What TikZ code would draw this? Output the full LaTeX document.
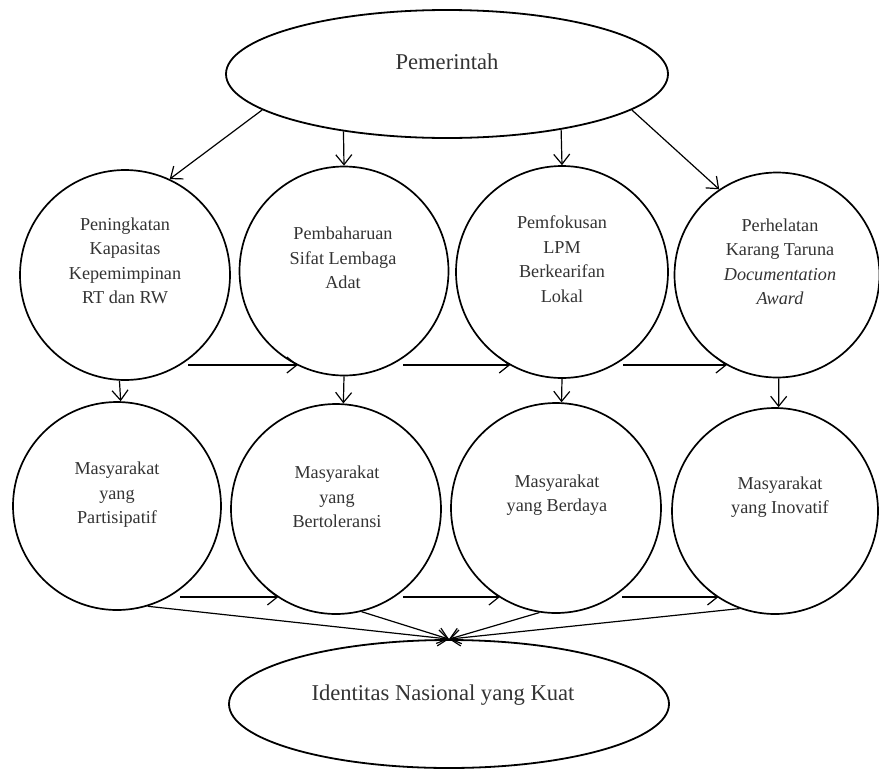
\documentclass[tikz,border=0pt]{standalone}
\usepackage{fontspec}
\setmainfont{Liberation Serif}
\usetikzlibrary{arrows.meta,shapes.geometric}
\begin{document}
\begin{tikzpicture}[x=1pt,y=-1pt,
  circ/.style={circle,draw=black,line width=1.7pt,inner sep=0pt},
  ell/.style={ellipse,draw=black,line width=1.8pt,inner sep=0pt},
  ctext/.style={align=center,font=\fontsize{18.2}{24.5}\selectfont,text=black!80},
  etext/.style={font=\fontsize{22.6}{27}\selectfont,text=black!80},
  arr/.style={line width=1.2pt,-{Straight Barb[length=10pt,width=16pt,line width=1.2pt]}}]
\useasboundingbox (0,0) rectangle (879,769);

% ellipses
\node[ell,minimum width=442pt,minimum height=128pt] (top) at (447,74) {};
\node[etext] (toptxt) at (447,62) {Pemerintah};
\node[ell,minimum width=440pt,minimum height=128pt] (bot) at (449,704) {};
\node[etext] (bottxt) at (443,695) {Identitas Nasional yang Kuat};

% row 1 circles
\node[circ,minimum size=210pt] (c1) at (125,275) {};
\node[circ,minimum size=209pt] (c2) at (344,271) {};
\node[circ,minimum size=212pt] (c3) at (562,272) {};
\node[circ,minimum size=205pt] (c4) at (777,275) {};
\node[ctext] (t1) at (125,261) {Peningkatan\\Kapasitas\\Kepemimpinan\\RT dan RW};
\node[ctext] (t2) at (343,258) {Pembaharuan\\Sifat Lembaga\\Adat};
\node[ctext] (t3) at (562,259) {Pemfokusan\\LPM\\Berkearifan\\Lokal};
\node[ctext] (t4) at (780,262) {Perhelatan\\Karang Taruna\\\textit{Documentation}\\\textit{Award}};

% row 2 circles
\node[circ,minimum size=208pt] (c5) at (117,506) {};
\node[circ,minimum size=210pt] (c6) at (336,509) {};
\node[circ,minimum size=210pt] (c7) at (556,508) {};
\node[circ,minimum size=206pt] (c8) at (775,511) {};
\node[ctext] (t5) at (117,495) {Masyarakat\\yang\\Partisipatif};
\node[ctext] (t6) at (337,497) {Masyarakat\\yang\\Bertoleransi};
\node[ctext] (t7) at (557,495) {Masyarakat\\yang Berdaya};
\node[ctext] (t8) at (780,497) {Masyarakat\\yang Inovatif};

% from Pemerintah
\draw[arr] (top.191) -- (c1.65);
\draw[arr] (top.209) -- (c2.north);
\draw[arr] (top.334.2) -- (c3.north);
\draw[arr] (top.349.4) -- (c4.124);

% row 1 to row 2
\draw[arr] (c1.267) -- (c5.88);
\draw[arr] (c2.south) -- (c6.86);
\draw[arr] (c3.south) -- (c7.87);
\draw[arr] (c4.271) -- (c8.88);

% horizontal arrows row 1
\coordinate (h1) at (188,365);
\coordinate (h2) at (403,365);
\coordinate (h3) at (623,365);
\draw[arr] (h1) -- (h1 -| c2.244);
\draw[arr] (h2) -- (h2 -| c3.241);
\draw[arr] (h3) -- (h3 -| c4.241);

% horizontal arrows row 2
\coordinate (h4) at (180,597);
\coordinate (h5) at (403,597);
\coordinate (h6) at (622,597);
\draw[arr] (h4) -- (h4 -| c6.237);
\draw[arr] (h5) -- (h5 -| c7.238);
\draw[arr] (h6) -- (h6 -| c8.237);

% converging to Identitas
\draw[arr] (c5.287) -- (bot.north);
\draw[arr] (c6.284) -- (bot.north);
\draw[arr] (c7.261) -- (bot.north);
\draw[arr] (c8.250) -- (bot.north);
\end{tikzpicture}
\end{document}
